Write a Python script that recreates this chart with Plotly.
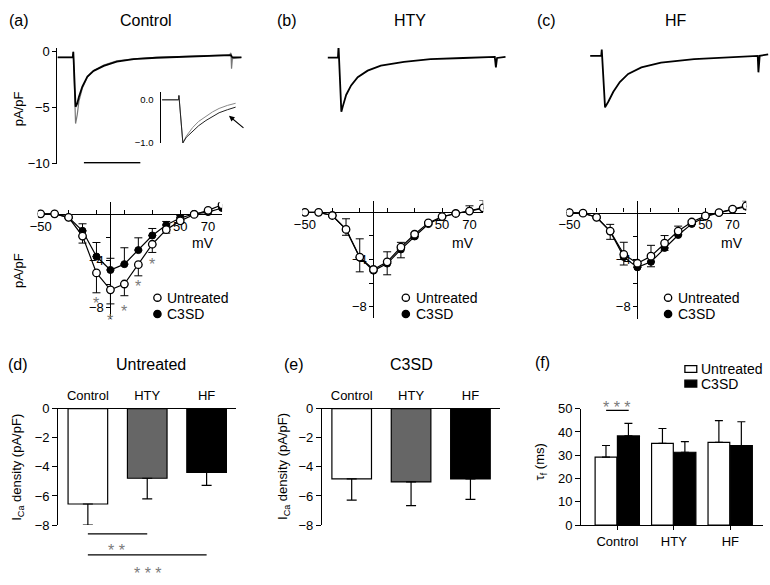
import plotly.graph_objects as go

W, H = 770, 585
FONT = "Liberation Sans"

# ---- (a)-(c) current traces (ms from step onset, pA/pF) ----
TRACE_A_T = [-28, -1, 0, 4, 7, 10, 16, 25, 36, 54, 77, 107, 147, 200, 253, 277, 279.5, 280.5, 282, 298]
TRACE_A_UNT = [-0.5, -0.5, 0.0, -6.4, -5.6, -4.4, -3.25, -2.26, -1.68, -1.18, -0.8, -0.62, -0.5, -0.42, -0.33, -0.28, -0.1, -1.5, -0.6, -0.5]
TRACE_A_C3 = [-0.5, -0.5, 0.0, -4.9, -4.6, -4.0, -3.1, -2.2, -1.7, -1.25, -0.88, -0.66, -0.53, -0.45, -0.37, -0.32, -0.3, -0.4, -0.5, -0.5]

INSET_T = [-17, -0.3, 0, 4, 7.5, 14, 20, 27.3, 34, 40.6, 49, 57.3]
INSET_GREY = [0, 0, 0.1, -1.0, -0.84, -0.64, -0.5, -0.38, -0.28, -0.2, -0.13, -0.08]
INSET_BLACK = [0, 0, 0.1, -1.0, -0.87, -0.72, -0.6, -0.48, -0.38, -0.3, -0.23, -0.17]

TRACE_B_T = [-19, -1, 0, 5, 7.6, 13.5, 22.3, 34, 51.6, 75, 116, 163, 221, 270, 277, 279, 281, 296]
TRACE_B_I = [-0.52, -0.52, 0.5, -5.35, -4.87, -3.85, -3.0, -2.26, -1.68, -1.24, -0.9, -0.66, -0.55, -0.45, -0.45, -1.4, -0.55, -0.45]

TRACE_C_T = [-20.5, -1, 0, 5.8, 11.8, 20.5, 32, 46.8, 70.2, 105, 163.7, 222, 275, 276.5, 277.7, 280, 295]
TRACE_C_I = [-0.37, -0.37, 0.2, -4.96, -4.43, -3.57, -2.7, -1.97, -1.39, -0.96, -0.66, -0.52, -0.37, -0.37, -1.83, -0.35, -0.23]

SCALE_BAR_START = 18.8
SCALE_BAR_MS = 100

# ---- I-V curves ----
IV_MV = [-50, -40, -30, -20, -10, 0, 10, 20, 30, 40, 50, 60, 70, 80]

A_UNT = [0, 0, -0.3, -1.9, -5.05, -6.5, -6.0, -4.35, -2.6, -1.35, -0.6, -0.05, 0.3, 0.78]
A_UNT_ERR = [0, 0, 0.1, 0.6, 1.7, 1.2, 1.0, 0.95, 0.7, 0.3, 0.2, 0.1, 0.1, 0.1]
A_C3 = [0, 0, -0.3, -1.45, -3.65, -4.8, -4.3, -3.1, -1.85, -0.95, -0.35, 0.0, 0.15, 0.5]
A_C3_ERR = [0, 0, 0.1, 0.6, 1.2, 1.0, 1.4, 1.05, 0.6, 0.3, 0.2, 0.1, 0.1, 0.1]
A_SIG_MV = [-10, 0, 10, 20, 30]
A_SIG_Y = [-7.3, -8.8, -8.0, -5.9, -4.0]

B_UNT = [0, 0, -0.27, -1.45, -3.8, -4.85, -4.2, -2.96, -1.86, -0.9, -0.36, -0.1, 0.1, 0.38]
B_UNT_ERR = [0, 0, 0.1, 0.5, 1.25, 0.2, 1.1, 0.9, 0.3, 0.2, 0.1, 0.1, 0.1, 0.1]
B_C3 = [0, 0, -0.27, -1.45, -3.85, -4.95, -4.35, -3.15, -2.05, -1.0, -0.4, -0.1, 0.1, 0.35]
B_C3_ERR = [0, 0, 0.1, 0.9, 1.6, 0.2, 1.0, 0.6, 0.3, 0.2, 0.1, 0.1, 0.45, 0.65]

C_UNT = [0, -0.05, -0.4, -1.57, -3.55, -4.3, -3.7, -2.6, -1.57, -0.8, -0.28, 0.0, 0.3, 0.58]
C_UNT_ERR = [0, 0, 0.1, 0.7, 0.9, 0.3, 0.9, 0.6, 0.3, 0.2, 0.1, 0.1, 0.1, 0.1]
C_C3 = [0, -0.05, -0.4, -1.6, -3.77, -4.65, -4.18, -3.0, -1.9, -0.96, -0.35, 0.0, 0.25, 0.5]
C_C3_ERR = [0, 0, 0.1, 0.6, 1.25, 0.3, 1.4, 1.05, 0.75, 0.3, 0.1, 0.1, 0.2, 0.5]

# ---- bar charts ----
GROUPS = ["Control", "HTY", "HF"]
BAR_COLORS = ["white", "#666666", "black"]
D_MEAN = [-6.55, -4.78, -4.37]
D_ERR = [1.45, 1.42, 0.9]
E_MEAN = [-4.83, -5.03, -4.83]
E_ERR = [1.45, 1.63, 1.4]
F_UNT = [29.2, 35.1, 35.5]
F_UNT_ERR = [5.0, 6.4, 9.4]
F_C3 = [38.3, 31.3, 34.2]
F_C3_ERR = [5.4, 4.6, 10.2]

SIG_GREY = "#7a7a7a"


def fx(px):
    return px / W


def fy(py):
    return 1 - py / H


def label(text, x, y, size=13, color="black", **kw):
    d = dict(text=text, x=fx(x), y=fy(y), xref="paper", yref="paper", showarrow=False,
             font=dict(size=size, color=color, family=FONT), xanchor="center", yanchor="middle")
    d.update(kw)
    return d


fig = go.Figure()

# current traces
fig.add_trace(go.Scatter(x=TRACE_A_T, y=TRACE_A_UNT, xaxis="x", yaxis="y", mode="lines",
                         line=dict(color="#777777", width=1.2)))
fig.add_trace(go.Scatter(x=TRACE_A_T, y=TRACE_A_C3, xaxis="x", yaxis="y", mode="lines",
                         line=dict(color="black", width=1.8)))
fig.add_trace(go.Scatter(x=INSET_T, y=INSET_GREY, xaxis="x2", yaxis="y2", mode="lines",
                         line=dict(color="#888888", width=1)))
fig.add_trace(go.Scatter(x=INSET_T, y=INSET_BLACK, xaxis="x2", yaxis="y2", mode="lines",
                         line=dict(color="#222222", width=1)))
fig.add_trace(go.Scatter(x=TRACE_B_T, y=TRACE_B_I, xaxis="x3", yaxis="y3", mode="lines",
                         line=dict(color="black", width=1.8)))
fig.add_trace(go.Scatter(x=TRACE_C_T, y=TRACE_C_I, xaxis="x4", yaxis="y4", mode="lines",
                         line=dict(color="black", width=1.8)))

# I-V curves: C3SD first, untreated on top
iv_sets = [("5", A_UNT, A_UNT_ERR, A_C3, A_C3_ERR),
           ("6", B_UNT, B_UNT_ERR, B_C3, B_C3_ERR),
           ("7", C_UNT, C_UNT_ERR, C_C3, C_C3_ERR)]
zeros = [0] * len(IV_MV)
for n, unt, unt_err, c3, c3_err in iv_sets:
    fig.add_trace(go.Scatter(
        x=IV_MV, y=c3, xaxis="x" + n, yaxis="y" + n, mode="lines+markers",
        line=dict(color="black", width=1.2),
        marker=dict(symbol="circle", size=7, color="black", line=dict(color="black", width=1)),
        error_y=dict(type="data", symmetric=False, array=c3_err, arrayminus=zeros,
                     color="black", thickness=1, width=4)))
    fig.add_trace(go.Scatter(
        x=IV_MV, y=unt, xaxis="x" + n, yaxis="y" + n, mode="lines+markers",
        line=dict(color="black", width=1.2),
        marker=dict(symbol="circle", size=7.5, color="white", line=dict(color="black", width=1.3)),
        error_y=dict(type="data", symmetric=False, array=zeros, arrayminus=unt_err,
                     color="black", thickness=1, width=4)))

# bars (d), (e)
for n, mean, err in [("8", D_MEAN, D_ERR), ("9", E_MEAN, E_ERR)]:
    fig.add_trace(go.Bar(
        x=GROUPS, y=mean, xaxis="x" + n, yaxis="y" + n, width=0.667,
        marker=dict(color=BAR_COLORS, line=dict(color="black", width=1.2)),
        error_y=dict(type="data", symmetric=False, array=[0, 0, 0], arrayminus=err,
                     color="black", thickness=1.2, width=5)))

# bars (f)
fig.add_trace(go.Bar(
    x=GROUPS, y=F_UNT, xaxis="x10", yaxis="y10", width=0.385, offset=-0.395,
    marker=dict(color="white", line=dict(color="black", width=1.2)),
    error_y=dict(type="data", symmetric=False, array=F_UNT_ERR, arrayminus=[0, 0, 0],
                 color="black", thickness=1.2, width=4)))
fig.add_trace(go.Bar(
    x=GROUPS, y=F_C3, xaxis="x10", yaxis="y10", width=0.39, offset=0.0,
    marker=dict(color="black", line=dict(color="black", width=1.2)),
    error_y=dict(type="data", symmetric=False, array=F_C3_ERR, arrayminus=[0, 0, 0],
                 color="black", thickness=1.2, width=4)))

# ---- axes ----
PX_PER_MS = 0.57
tick_font = dict(size=13, color="black", family=FONT)
line_style = dict(showline=True, linecolor="black", linewidth=1.2, showgrid=False, zeroline=False,
                  tickcolor="black", tickwidth=1.2, tickfont=tick_font)


def trace_x(left, right, step):
    return dict(visible=False, domain=[fx(left), fx(right)],
                range=[(left - step) / PX_PER_MS, (right - step) / PX_PER_MS])


trace_y_range = [-10, 0.35]
trace_y_dom = [fy(161), fy(161 - 10.35 * 11.5)]

layout_axes = dict(
    xaxis=trace_x(50, 240, 66),
    yaxis=dict(domain=trace_y_dom, range=trace_y_range, anchor="x", ticks="outside", ticklen=4,
               tickvals=[0, -5, -10], **line_style),
    xaxis2=dict(visible=False, domain=[fx(155), fx(232)], range=[-17.7, 59.3]),
    yaxis2=dict(domain=[fy(139.5), fy(87.3)], range=[-1.0, 0.18], anchor="x2", ticks="",
                tickvals=[0, -1], tickformat=".1f", ticklabelstandoff=5,
                **{**line_style, "linewidth": 1, "tickfont": dict(size=9.5, color="black", family=FONT)}),
    xaxis3=trace_x(300, 515, 334),
    yaxis3=dict(visible=False, domain=trace_y_dom, range=trace_y_range, anchor="x3"),
    xaxis4=trace_x(570, 770, 600),
    yaxis4=dict(visible=False, domain=trace_y_dom, range=trace_y_range, anchor="x4"),
)

# I-V axes: (x of -50 mV, px per mV, y of 0 pA/pF, px per unit)
iv_geom = {"5": (33, 1.41, 212.3, 12.0), "6": (300, 1.386, 210.7, 12.1), "7": (567.3, 1.374, 211, 12.09)}
for n, (x50, kx, y0, ky) in iv_geom.items():
    zero_x = x50 + 50 * kx
    layout_axes["xaxis" + n] = dict(
        domain=[fx(zero_x - 52 * kx), fx(zero_x + 80 * kx)], range=[-52, 80],
        anchor="free", position=fy(y0), ticks="inside", ticklen=4,
        tickvals=[-50, -30, -10, 10, 30, 50, 70], ticktext=["\u221250", "", "", "", "", "50", "70"],
        ticklabelstandoff=0, layer="below traces", **line_style)
    layout_axes["yaxis" + n] = dict(
        domain=[fy(y0 + 9 * ky), fy(y0 - 1 * ky)], range=[-9, 1],
        anchor="free", position=fx(zero_x), ticks="outside", ticklen=4,
        tickvals=[-2, -4, -6, -8], ticktext=["", "\u22124", "", "\u22128"],
        layer="below traces", **line_style)

bar_y_dom = [fy(531.7), fy(412.3)]
for n, left in [("8", 50.7), ("9", 317.3)]:
    layout_axes["xaxis" + n] = dict(domain=[fx(left), fx(left + 180)], range=[-0.5, 2.5],
                                    type="category", side="top", anchor="y" + n, ticks="",
                                    ticklabelstandoff=2, **line_style)
    layout_axes["yaxis" + n] = dict(domain=bar_y_dom, range=[-8, 0], dtick=2, anchor="x" + n,
                                    ticks="outside", ticklen=5, **line_style)
layout_axes["xaxis10"] = dict(domain=[fx(579.3), fx(763)], range=[-0.64, 2.58], type="category",
                              anchor="y10", ticks="outside", ticklen=4, **line_style)
layout_axes["yaxis10"] = dict(domain=bar_y_dom, range=[0, 50], dtick=10, anchor="x10",
                              ticks="outside", ticklen=5, **line_style)

# ---- shapes ----
shapes = [
    # scale bar
    dict(type="line", xref="x", yref="y", x0=SCALE_BAR_START, x1=SCALE_BAR_START + SCALE_BAR_MS,
         y0=-9.9, y1=-9.9, line=dict(color="black", width=1.5)),
    # significance bars (d)
    dict(type="line", xref="x8", yref="paper", x0=0, x1=1, y0=fy(540.7), y1=fy(540.7),
         line=dict(color="black", width=1.2)),
    dict(type="line", xref="x8", yref="paper", x0=0, x1=2, y0=fy(562.3), y1=fy(562.3),
         line=dict(color="black", width=1.2)),
    # significance bar (f)
    dict(type="line", xref="x10", yref="y10", x0=-0.2, x1=0.2, y0=49.3, y1=49.3,
         line=dict(color="black", width=1.2)),
]


def circle(cx, cy, filled, r=3.7):
    return dict(type="circle", xref="paper", yref="paper", x0=fx(cx - r), x1=fx(cx + r),
                y0=fy(cy + r), y1=fy(cy - r), fillcolor="black" if filled else "white",
                line=dict(color="black", width=1.3))


def rect(cx, cy, filled, w=12, h=7):
    return dict(type="rect", xref="paper", yref="paper", x0=fx(cx - w / 2), x1=fx(cx + w / 2),
                y0=fy(cy + h / 2), y1=fy(cy - h / 2), fillcolor="black" if filled else "white",
                line=dict(color="black", width=1.3))


annotations = [
    label("(a)", 11, 14, 16), label("Control", 139, 14, 16),
    label("(b)", 282, 14, 16), label("HTY", 406, 14, 16),
    label("(c)", 544, 14, 16), label("HF", 675, 14, 16),
    label("pA/pF", 10, 104, 13, textangle=-90),
    label("pA/pF", 10, 270, 13, textangle=-90),
    label("(d)", 10, 367, 16), label("Untreated", 145, 367, 16),
    label("(e)", 289, 367, 16), label("C3SD", 408, 367, 16),
    label("(f)", 540, 365, 16),
    label("I<sub>Ca</sub> density (pA/pF)", 10, 472, 13, textangle=-90),
    label("I<sub>Ca</sub> density (pA/pF)", 279, 472, 13, textangle=-90),
    label("\u03c4<sub>f</sub> (ms)", 538, 467, 13, textangle=-90),
    label("* *", 110, 557.5, 16, SIG_GREY),
    label("* * *", 141, 581, 16, SIG_GREY),
    dict(text="* * *", x=0, y=49.3, xref="x10", yref="y10", showarrow=False, yanchor="bottom",
         yshift=-8, font=dict(size=16, color=SIG_GREY, family=FONT)),
    # arrow in inset
    dict(text="", x=fx(223.3), y=fy(111.7), xref="paper", yref="paper", showarrow=True,
         ax=16, ay=13.3, arrowhead=2, arrowsize=1, arrowwidth=1.1, arrowcolor="black"),
]

for mv, yv in zip(A_SIG_MV, A_SIG_Y):
    annotations.append(dict(text="*", x=mv, y=yv, xref="x5", yref="y5", showarrow=False,
                            yshift=-4, font=dict(size=16, color=SIG_GREY, family=FONT)))

# I-V legends and mV labels
for cx, tx, mvx in [(151, 159, 197), (402, 410, 460), (667, 675, 732)]:
    shapes.append(circle(cx, 298.3, False))
    shapes.append(circle(cx, 315, True))
    annotations.append(label("Untreated", tx, 298.3, 14, xanchor="left"))
    annotations.append(label("C3SD", tx, 315, 14, xanchor="left"))
    annotations.append(label("mV", mvx, 242, 14))

# (f) legend
shapes.append(rect(690, 371.5, False))
shapes.append(rect(690, 386.5, True))
annotations.append(label("Untreated", 698, 371.5, 14, xanchor="left"))
annotations.append(label("C3SD", 698, 386.5, 14, xanchor="left"))

fig.update_layout(
    width=W, height=H, margin=dict(l=0, r=0, t=0, b=0),
    paper_bgcolor="white", plot_bgcolor="white",
    font=dict(family=FONT, color="black"),
    showlegend=False, barmode="overlay", hovermode=False,
    shapes=shapes, annotations=annotations,
    **layout_axes,
)

# the page's default body margin would shift the figure by 8 px
fig.write_html("out.html", config={"displayModeBar": False},
               post_script="document.body.style.margin='0';")
